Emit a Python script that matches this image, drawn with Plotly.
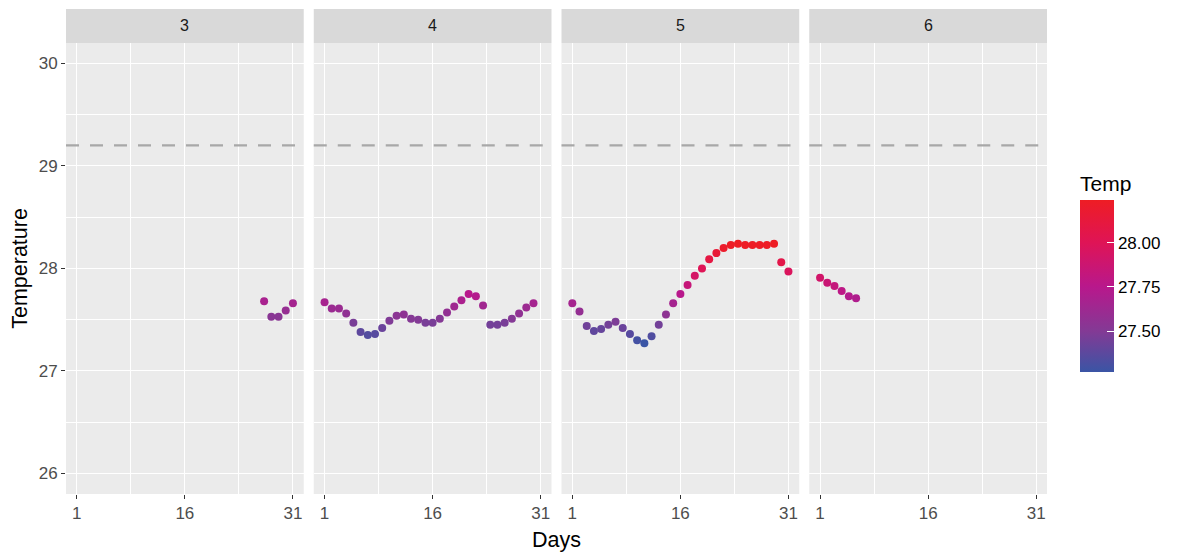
import plotly.graph_objects as go
from plotly.subplots import make_subplots

# ---- data ----
months = [3, 4, 5, 6]
days_m3 = [27, 28, 29, 30, 31]
temp_m3 = [27.68, 27.53, 27.53, 27.59, 27.66]
days_m4 = list(range(1, 31))
temp_m4 = [27.67, 27.61, 27.61, 27.56, 27.47, 27.38, 27.35, 27.36, 27.42, 27.49,
           27.54, 27.55, 27.51, 27.50, 27.47, 27.47, 27.51, 27.57, 27.63, 27.69,
           27.75, 27.73, 27.64, 27.45, 27.45, 27.47, 27.51, 27.56, 27.62, 27.66]
days_m5 = list(range(1, 32))
temp_m5 = [27.66, 27.58, 27.44, 27.39, 27.41, 27.45, 27.48, 27.42, 27.36, 27.30,
           27.27, 27.34, 27.45, 27.55, 27.66, 27.75, 27.84, 27.93, 28.00, 28.09,
           28.15, 28.20, 28.23, 28.24, 28.23, 28.23, 28.23, 28.23, 28.24, 28.06,
           27.97]
days_m6 = [1, 2, 3, 4, 5, 6]
temp_m6 = [27.91, 27.86, 27.83, 27.78, 27.73, 27.71]
threshold = 29.2
x_ticks = [1, 16, 31]
y_ticks = [26, 27, 28, 29, 30]
cbar_ticks = [27.5, 27.75, 28.0]
cbar_text = ['27.50', '27.75', '28.00']

series = [(days_m3, temp_m3), (days_m4, temp_m4), (days_m5, temp_m5), (days_m6, temp_m6)]

all_t = temp_m3 + temp_m4 + temp_m5 + temp_m6
cmin, cmax = min(all_t), max(all_t)

# colour stops sampled from the reference colour bar (value -> colour)
stop_vals = [cmin, 27.50, 27.75, 28.00, cmax]
stop_cols = ['#3A55A5', '#833A95', '#B8188C', '#DF1456', '#EE1D24']
colorscale = [[(v - cmin) / (cmax - cmin), c] for v, c in zip(stop_vals, stop_cols)]

# ---- figure ----
W, H = 1174, 544
ML, MR, MT, MB = 58, 135, 1, 58
plot_h = H - MT - MB
fig = make_subplots(rows=1, cols=4, shared_yaxes=True, horizontal_spacing=0.0102)

FONT = 'Liberation Sans, Arial, sans-serif'
for i, (dx, ty) in enumerate(series):
    xr = f'x{i+1 if i else ""} domain'
    fig.add_trace(go.Scatter(
        x=dx, y=ty, mode='markers',
        marker=dict(size=8, color=ty, colorscale=colorscale, cmin=cmin, cmax=cmax,
                    showscale=(i == 0),
                    colorbar=dict(
                        title=dict(text='Temp', side='top', font=dict(size=21, color='#000000', family=FONT)),
                        x=1.0336, xanchor='left', xref='paper', xpad=0,
                        y=(486 - 364) / plot_h, yanchor='bottom', ypad=0,
                        len=200, lenmode='pixels',
                        thickness=34, outlinewidth=0,
                        tickvals=cbar_ticks, ticktext=cbar_text,
                        ticks='inside', tickcolor='white', ticklen=7, tickwidth=1.2,
                        tickfont=dict(size=17, color='#000000', family=FONT),
                    )),
        showlegend=False, hoverinfo='x+y'), row=1, col=i + 1)

    fig.add_shape(type='line', xref=xr, x0=0, x1=1,
                  yref='y', y0=threshold, y1=threshold,
                  line=dict(color='#A8A8A8', width=2.2, dash='13px,11px'), layer='above')

    fig.add_shape(type='rect', xref=xr, x0=0, x1=1,
                  yref='paper', y0=0.93, y1=1.0, fillcolor='#D9D9D9', line=dict(width=0),
                  layer='below')
    fig.add_annotation(text=str(months[i]), xref=xr, x=0.5,
                       yref='paper', y=0.965, yanchor='middle', showarrow=False,
                       font=dict(size=16, color='#1A1A1A', family=FONT))

for i in range(1, 5):
    fig.update_xaxes(row=1, col=i, range=[-0.5, 32.5], tickvals=x_ticks,
                     showgrid=True, gridcolor='white', gridwidth=1.3,
                     minor=dict(tickvals=[8.5, 23.5], showgrid=True, gridcolor='white', gridwidth=0.6),
                     ticks='outside', ticklen=4, tickcolor='#333333', tickwidth=1,
                     tickfont=dict(size=17, color='#4D4D4D', family=FONT),
                     zeroline=False, showline=False, fixedrange=True)
    fig.update_yaxes(row=1, col=i, range=[25.8, 30.2], domain=[0, 0.93], tickvals=y_ticks,
                     showgrid=True, gridcolor='white', gridwidth=1.3,
                     minor=dict(tickvals=[26.5, 27.5, 28.5, 29.5], showgrid=True, gridcolor='white', gridwidth=0.6),
                     zeroline=False, showline=False, fixedrange=True)

fig.update_yaxes(row=1, col=1, ticks='outside', ticklen=4, tickcolor='#333333', tickwidth=1,
                 tickfont=dict(size=17, color='#4D4D4D', family=FONT),
                 title=dict(text='Temperature', font=dict(size=21.5, color='#000000', family=FONT), standoff=6))

fig.add_annotation(text='Days', xref='paper', x=0.5, yref='paper', y=-(532 - 486) / plot_h,
                   yanchor='middle', showarrow=False,
                   font=dict(size=21.5, color='#000000', family=FONT))

fig.update_layout(
    width=W, height=H,
    margin=dict(l=ML, r=MR, t=MT, b=MB),
    paper_bgcolor='white', plot_bgcolor='#EBEBEB',
    font=dict(family=FONT),
)

fig.write_html('out.html')
